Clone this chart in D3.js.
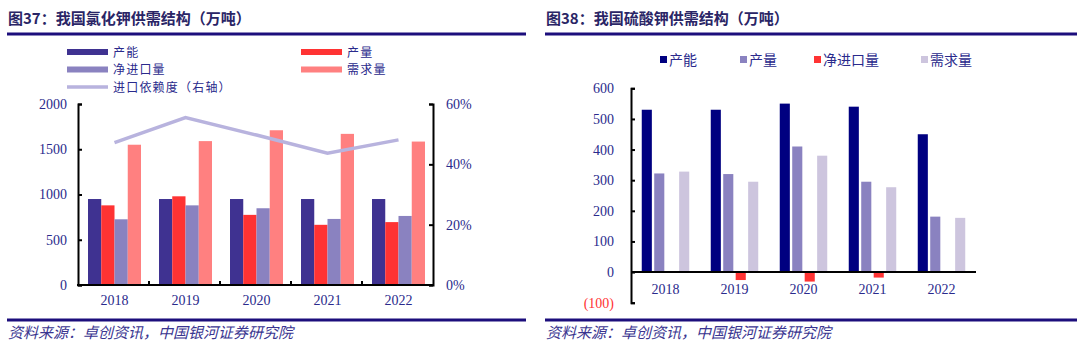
<!DOCTYPE html>
<html><head><meta charset="utf-8">
<script src="https://cdn.jsdelivr.net/npm/d3@7"></script>
<style>
html,body{margin:0;padding:0;background:#fff;}
svg{display:block;}
</style></head>
<body>
<svg id="c" width="1080" height="355"></svg>
<script>
// ---------- Data ----------
const years = ["2018","2019","2020","2021","2022"];
// 图37 氯化钾
const kclSeries = ["产能","产量","净进口量","需求量"];
const kclCapacity = [950, 950, 950, 950, 950];
const kclOutput   = [880, 980, 775, 665, 695];
const kclImport   = [726, 880, 848, 730, 763];
const kclDemand   = [1550, 1590, 1710, 1670, 1585];
const kclDependence = [0.472, 0.555, 0.497, 0.437, 0.481];
const kclLeftTicks = [0, 500, 1000, 1500, 2000];
const kclRightTicks = [0, 0.2, 0.4, 0.6];
// 图38 硫酸钾
const sopSeries = ["产能","产量","净进口量","需求量"];
const sopCapacity = [530, 530, 550, 540, 450];
const sopOutput   = [322, 320, 410, 295, 181];
const sopImport   = [3, -26, -31, -18, -2];
const sopDemand   = [328, 295, 380, 277, 177];
const sopTicks = [-100, 0, 100, 200, 300, 400, 500, 600];

const svg = d3.select("#c");
const navy = "#2a2a8c";
const ruleColor = "#1c0e7c";
const cjk = "'Noto Sans CJK SC','Noto Sans',sans-serif";
const serif = "'Liberation Serif','DejaVu Serif',serif";

// ---------- Headers / footers ----------
function frame(x0, x1, title){
  svg.append("text").attr("x", x0+1).attr("y", 24)
    .attr("font-family", cjk).attr("font-weight", "bold").attr("font-size", 15)
    .attr("fill", "#2a2566").text(title);
  svg.append("rect").attr("x", x0).attr("y", 32.5).attr("width", x1-x0).attr("height", 3).attr("fill", ruleColor);
  svg.append("rect").attr("x", x0).attr("y", 318.5).attr("width", x1-x0).attr("height", 3).attr("fill", ruleColor);
  svg.append("text").attr("x", x0+1).attr("y", 338)
    .attr("font-family", cjk).attr("font-style", "italic").attr("font-size", 15)
    .attr("fill", "#3a3590")
    .text("资料来源：卓创资讯，中国银河证券研究院");
}
frame(7, 526, "图37：我国氯化钾供需结构（万吨）");
frame(545, 1077, "图38：我国硫酸钾供需结构（万吨）");

// ---------- Chart 1 ----------
(function(){
  const L = 78, R = 433, T = 104, B = 285;
  const colors = ["#3f3291", "#ff3333", "#8a82c0", "#ff8080"];
  const x0 = d3.scaleBand().domain(years).range([L, R]).paddingInner(0).paddingOuter(0);
  const groupW = 53;
  const x1 = d3.scaleBand().domain(kclSeries).range([0, groupW]).padding(0);
  const y = d3.scaleLinear().domain([0, 2000]).range([B, T]);
  const y2 = d3.scaleLinear().domain([0, 0.6]).range([B, T]);
  const vals = [kclCapacity, kclOutput, kclImport, kclDemand];
  const g = svg.append("g");
  years.forEach((yr, i) => {
    const gx = x0(yr) + (x0.bandwidth() - groupW)/2 + 1;
    kclSeries.forEach((s, k) => {
      g.append("rect").attr("x", gx + x1(s)).attr("width", x1.bandwidth())
        .attr("y", y(vals[k][i])).attr("height", y(0) - y(vals[k][i]))
        .attr("fill", colors[k]);
    });
  });
  // line
  const line = d3.line().x((d, i) => x0(years[i]) + x0.bandwidth()/2 + 1).y(d => y2(d));
  g.append("path").datum(kclDependence).attr("d", line)
    .attr("fill", "none").attr("stroke", "#b8b3de").attr("stroke-width", 3.5);

  // left axis
  const ax = d3.axisLeft(y).tickValues(kclLeftTicks).tickSize(-4).tickPadding(11).tickFormat(d3.format("d"));
  const ga = svg.append("g").attr("transform", `translate(${L},0)`).call(ax);
  ga.select(".domain").attr("stroke", "#000").attr("stroke-width", 2);
  ga.selectAll(".tick line").attr("stroke", "#000").attr("stroke-width", 2);
  ga.selectAll("text").attr("font-family", serif).attr("font-size", 14).attr("fill", navy);
  // right axis
  const ar = d3.axisRight(y2).tickValues(kclRightTicks).tickSize(-4).tickPadding(13).tickFormat(d3.format(".0%"));
  const gr = svg.append("g").attr("transform", `translate(${R},0)`).call(ar);
  gr.select(".domain").attr("stroke", "#000").attr("stroke-width", 2);
  gr.selectAll(".tick line").attr("stroke", "#000").attr("stroke-width", 2);
  gr.selectAll("text").attr("font-family", serif).attr("font-size", 14).attr("fill", navy);
  // x axis
  svg.append("line").attr("x1", L-1).attr("x2", R+1).attr("y1", B).attr("y2", B).attr("stroke", "#000").attr("stroke-width", 2);
  years.slice(1).forEach(yr => {
    svg.append("line").attr("x1", x0(yr)).attr("x2", x0(yr)).attr("y1", B).attr("y2", B-4).attr("stroke", "#000").attr("stroke-width", 2);
  });
  years.forEach(yr => {
    svg.append("text").attr("x", x0(yr) + x0.bandwidth()/2 + 1).attr("y", 305)
      .attr("text-anchor", "middle").attr("font-family", serif).attr("font-size", 14).attr("fill", navy).text(yr);
  });
  // legend
  const leg = [
    {name: "产能", c: colors[0], x: 67, y: 52, h: 6},
    {name: "净进口量", c: colors[2], x: 67, y: 69.5, h: 6},
    {name: "进口依赖度（右轴）", c: "#b8b3de", x: 67, y: 87, h: 3.5},
    {name: "产量", c: colors[1], x: 301, y: 52, h: 6},
    {name: "需求量", c: colors[3], x: 301, y: 69.5, h: 6}
  ];
  leg.forEach(d => {
    svg.append("rect").attr("x", d.x).attr("y", d.y - d.h/2).attr("width", 41).attr("height", d.h).attr("fill", d.c);
    svg.append("text").attr("x", d.x + 46).attr("y", d.y + 4.5).attr("font-family", cjk).attr("font-size", 12)
      .attr("letter-spacing", 1.2).attr("fill", navy).text(d.name);
  });
})();

// ---------- Chart 2 ----------
(function(){
  const L = 631, R = 976, T = 88.3, B = 302.7;
  const colors = ["#000080", "#8a82c0", "#ff3333", "#cdc5de"];
  const x0 = d3.scaleBand().domain(years).range([L, R]);
  const groupW = 47.5;
  const x1 = d3.scaleBand().domain(d3.range(4)).range([0, groupW]).paddingInner(0.19);
  const y = d3.scaleLinear().domain([-100, 600]).range([B, T]);
  const vals = [sopCapacity, sopOutput, sopImport, sopDemand];
  years.forEach((yr, i) => {
    const gx = x0(yr) + (x0.bandwidth() - groupW)/2;
    vals.forEach((arr, k) => {
      const v = arr[i];
      svg.append("rect").attr("x", gx + x1(k)).attr("width", x1.bandwidth())
        .attr("y", y(Math.max(0, v))).attr("height", Math.abs(y(v) - y(0)))
        .attr("fill", colors[k]);
    });
  });
  // y axis
  const ax = d3.axisLeft(y).tickValues(sopTicks).tickSize(-4).tickPadding(17)
    .tickFormat(d => d < 0 ? `(${Math.abs(d)})` : d);
  const ga = svg.append("g").attr("transform", `translate(${L},0)`).call(ax);
  ga.select(".domain").attr("stroke", "#000").attr("stroke-width", 2);
  ga.selectAll(".tick line").attr("stroke", "#000").attr("stroke-width", 2);
  ga.selectAll("text").attr("font-family", serif).attr("font-size", 14)
    .attr("fill", d => d < 0 ? "#ff3333" : navy);
  // zero line
  svg.append("line").attr("x1", L).attr("x2", R).attr("y1", y(0)).attr("y2", y(0)).attr("stroke", "#000").attr("stroke-width", 2);
  years.forEach(yr => {
    svg.append("text").attr("x", x0(yr) + x0.bandwidth()/2).attr("y", 294)
      .attr("text-anchor", "middle").attr("font-family", serif).attr("font-size", 14).attr("fill", navy).text(yr);
  });
  // legend
  const lx = [660, 740, 814, 921];
  sopSeries.forEach((s, k) => {
    svg.append("rect").attr("x", lx[k]).attr("y", 56).attr("width", 7).attr("height", 7).attr("fill", colors[k]);
    svg.append("text").attr("x", lx[k] + 9).attr("y", 64.5).attr("font-family", cjk).attr("font-size", 14)
      .attr("fill", navy).text(s);
  });
})();
</script>
</body></html>
